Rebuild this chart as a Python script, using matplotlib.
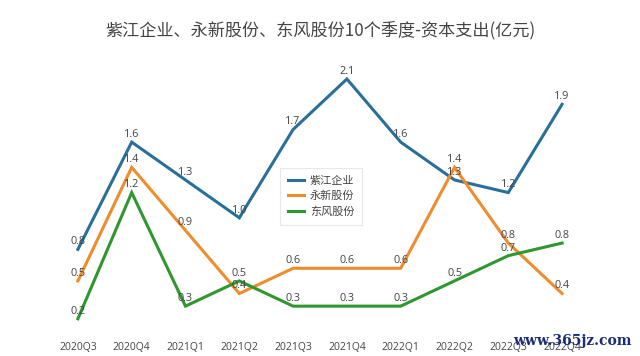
import matplotlib.pyplot as plt

plt.rcParams['font.family'] = ['Open Sans', 'Noto Sans CJK SC', 'DejaVu Sans']

quarters = ['2020Q3', '2020Q4', '2021Q1', '2021Q2', '2021Q3',
            '2021Q4', '2022Q1', '2022Q2', '2022Q3', '2022Q4']
zijiang = [0.75, 1.6, 1.3, 1.0, 1.7, 2.1, 1.6, 1.3, 1.2, 1.9]
yongxin = [0.5, 1.4, 0.9, 0.4, 0.6, 0.6, 0.6, 1.4, 0.8, 0.4]
dongfeng = [0.2, 1.2, 0.3, 0.5, 0.3, 0.3, 0.3, 0.5, 0.7, 0.8]

series = [('紫江企业', zijiang, '#286f99'),
          ('永新股份', yongxin, '#ef8c2c'),
          ('东风股份', dongfeng, '#2f972f')]

fig = plt.figure(figsize=(6.4, 3.56), dpi=100)
# plot area: value 0 sits at y=344px, 2.2 at y=66px
ax = fig.add_axes([51 / 640, (356 - 344) / 356, 538 / 640, 277.6 / 356])

x = list(range(len(quarters)))
for name, vals, col in series:
    ax.plot(x, vals, color=col, lw=2.2, label=name, solid_joinstyle='miter')
    for xi, v in zip(x, vals):
        ax.annotate('%.1f' % v, (xi, v), xytext=(0, 1.5), textcoords='offset points',
                    ha='center', va='bottom', fontsize=7.8, color='#444444')

ax.set_xlim(-0.5, 9.5)
ax.set_ylim(0, 2.2)
ax.set_xticks(x)
ax.set_xticklabels(quarters, fontsize=7.5, color='#444444')
ax.tick_params(axis='x', length=0, pad=-1.8)
ax.set_yticks([])
for s in ax.spines.values():
    s.set_visible(False)

fig.text(0.5, 1 - 30 / 356, '紫江企业、永新股份、东风股份10个季度-资本支出(亿元)',
         ha='center', va='center', fontsize=12.3, color='#444444',
         family=['Noto Sans CJK SC', 'DejaVu Sans'])

leg = fig.legend(loc='upper left', bbox_to_anchor=(280 / 640, 1 - 168 / 356),
                 bbox_transform=fig.transFigure, borderaxespad=0,
                 prop={'family': 'Noto Sans CJK SC', 'size': 8},
                 handlelength=1.5, labelspacing=0.45, handletextpad=0.5,
                 fancybox=False, framealpha=1, borderpad=0.7)
leg.get_frame().set_edgecolor('#e8e8e8')
leg.get_frame().set_linewidth(0.8)
for t in leg.get_texts():
    t.set_color('#444444')

fig.text(572 / 640, 1 - 341 / 356, 'www.365jz.com', ha='center', va='center',
         fontsize=10, color='#1b2c7a', family='DejaVu Serif', fontweight='bold')

fig.savefig('out.png', dpi=100)
